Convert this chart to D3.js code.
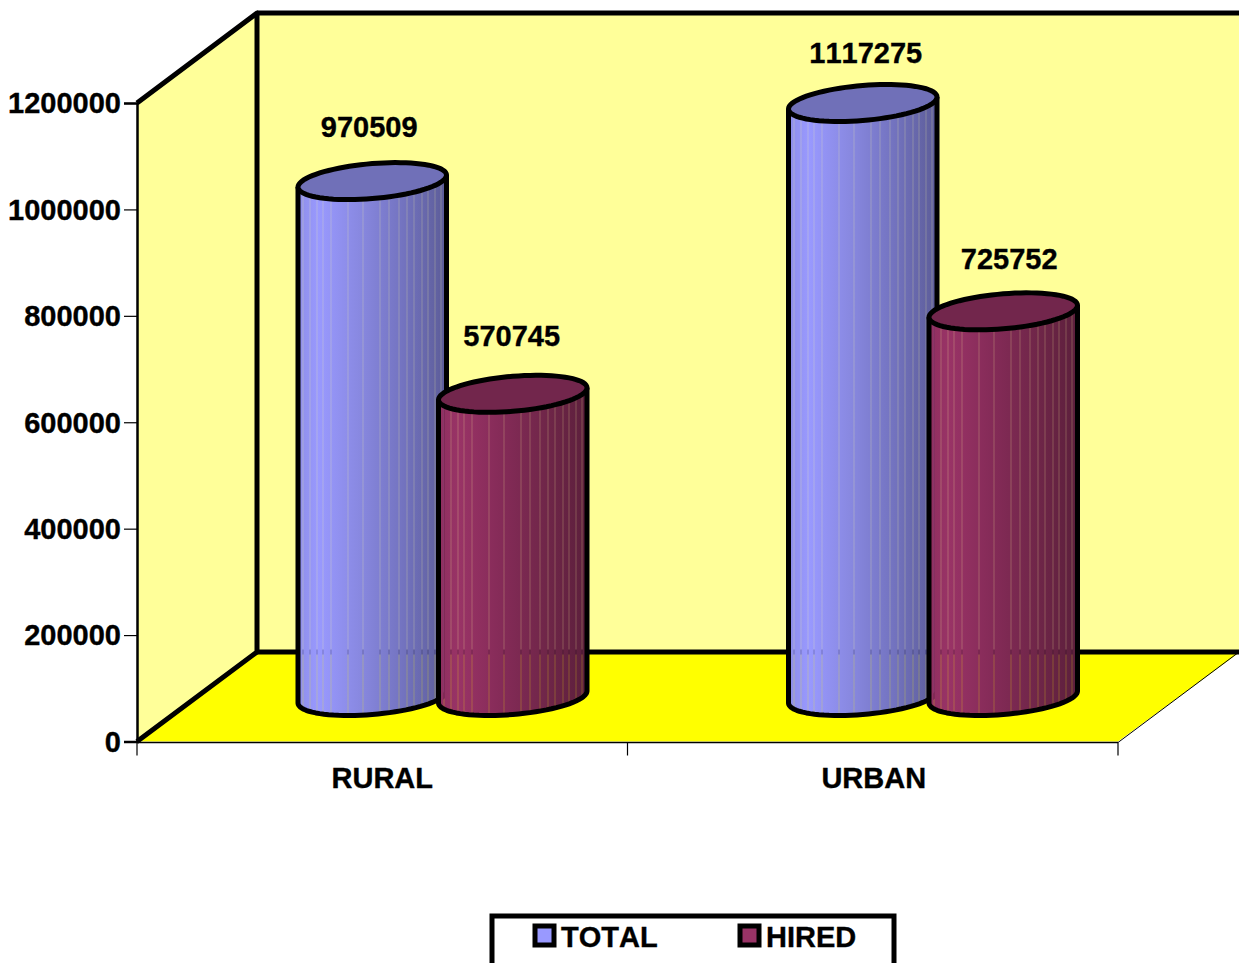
<!DOCTYPE html>
<html><head><meta charset="utf-8">
<script src="https://cdnjs.cloudflare.com/ajax/libs/d3/7.8.5/d3.min.js"></script>
<style>html,body{margin:0;padding:0;background:#fff}svg{display:block}
text{font-family:"Liberation Sans",Arial,sans-serif;font-weight:700;fill:#000;font-kerning:none;stroke:#000;stroke-width:.35px}</style>
</head><body><svg id="c" width="1239" height="963"></svg>
<script>
const categories = ["RURAL", "URBAN"];
const seriesNames = ["TOTAL", "HIRED"];
const totalValues = [970509, 1117275];
const hiredValues = [570745, 725752];
const tickValues = [0, 200000, 400000, 600000, 800000, 1000000, 1200000];

const svg = d3.select("#c");
const X0 = 137, X1 = 1118, Y0 = 741.5, Y1 = 103;
const DX = 120, DY = 89.5;                 // 3-D depth of the box
const y = d3.scaleLinear().domain([0, 1200000]).range([Y0, Y1]);
const x = d3.scaleBand().domain(categories).range([X0, X1]);
const inner = d3.scaleOrdinal().domain(seriesNames).range([161, 301.5]);
const colours = {
  TOTAL: {stops:["#8e8ee8","#9999ff","#8888e0","#7272be","#5c5c98"], top:"#7070b8"},
  HIRED: {stops:["#8f2f60","#993366","#852b58","#702649","#5c1f3c"], top:"#72264c"}
};
const W = 148.5, RX = 74.25, SK = 6, RY = 17.5, BASE = 38, STROKE = 5;
const facetEdges = [0,5,12,19,25,33,50,65,82,91,101,109,116,124,130,137,143,W];

const defs = svg.append("defs");
const line = d3.line();

// walls and floor
svg.append("path").attr("d", line([[X0,Y0],[X0+DX,Y0-DY],[X1+DX+2,Y0-DY],[X1,Y0]])+"Z")
  .attr("fill","#ffff00").attr("stroke","none");
svg.append("path").attr("d", line([[X0,Y1],[X0+DX,13],[X0+DX,Y0-DY],[X0,Y0]])+"Z").attr("fill","#ffff99");
svg.append("rect").attr("x",X0+DX).attr("y",13).attr("width",1239-X0-DX).attr("height",Y0-DY-13).attr("fill","#ffff99");
svg.append("path").attr("d", line([[X0,Y0],[X0+DX,Y0-DY],[X0+DX,13],[X0,Y1]])).attr("fill","none").attr("stroke","#000").attr("stroke-width",STROKE).attr("stroke-linejoin","round");
svg.append("path").attr("d", line([[X0+DX,Y0-DY],[1239,Y0-DY]])).attr("stroke","#000").attr("stroke-width",STROKE);
svg.append("path").attr("d", line([[X0+DX,13],[1239,13]])).attr("stroke","#000").attr("stroke-width",STROKE);
svg.append("path").attr("d", line([[X1,Y0+1],[1239,Y0-DY]])).attr("fill","none").attr("stroke","#000").attr("stroke-width",1);

// axes
const yAxis = d3.axisLeft(y).tickValues(tickValues).tickSize(13).tickPadding(4).tickFormat(d3.format("d"));
const gy = svg.append("g").attr("transform",`translate(${X0},0)`).call(yAxis);
gy.select(".domain").attr("stroke-width",2.5);
gy.selectAll("line").attr("stroke-width",1.2);
gy.selectAll("text").attr("font-size",29).attr("dy","0.34em").attr("x",-16);

const gx = svg.append("g").attr("transform",`translate(0,${Y0+1})`);
gx.append("line").attr("x1",X0).attr("x2",X1).attr("stroke","#000").attr("stroke-width",1.5);
[...categories.map(c=>x(c)), X1].forEach(p=>gx.append("line").attr("x1",p).attr("x2",p).attr("y1",0).attr("y2",13).attr("stroke","#000").attr("stroke-width",1.2));
categories.forEach((c,i)=>gx.append("text").attr("x",x(c)+x.bandwidth()/2+i).attr("y",45).attr("text-anchor","middle").attr("font-size",29).text(c));

// cylinders
const rows = [
  {name:"TOTAL", values: totalValues, nudge:[[-3,-55],[3,-50]]},
  {name:"HIRED", values: hiredValues, nudge:[[-1,-58],[6,-53]]}
];
const ell = (cx,cy,a) => [cx+RX*Math.cos(a), cy-SK*Math.cos(a)+RY*Math.sin(a)];

let uid = 0;
rows.forEach(row=>{
  row.labels = [];
  categories.forEach((cat,i)=>{
    const v = row.values[i], left = x(cat)+inner(row.name), cx = left+W/2;
    const topY = y(v)-BASE-6, botY = y(0)-BASE-6-0.5;  // centres of top and bottom ellipses
    const id = "clip"+(uid++), gid = "grad"+uid;
    const g = svg.append("g");
    const lower = d3.range(0,41).map(k=>ell(cx,botY,Math.PI-Math.PI*k/40));
    const bodyPts = [[cx-RX,topY+SK],...lower,[cx+RX,topY-SK]];
    defs.append("clipPath").attr("id",id).append("path").attr("d",line(bodyPts)+"Z");
    const grad = defs.append("linearGradient").attr("id",gid).attr("gradientUnits","userSpaceOnUse")
      .attr("x1",left).attr("x2",left+W).attr("y1",0).attr("y2",0);
    [0,.14,.42,.72,1].forEach((o,k)=>grad.append("stop").attr("offset",o).attr("stop-color",colours[row.name].stops[k]));
    // facets with hairline seams that let the background show through
    const facets = g.append("g").attr("clip-path",`url(#${id})`);
    d3.pairs(facetEdges).forEach(([a,b])=>facets.append("rect").attr("x",Math.round(left)+a+0.12).attr("width",b-a-0.24)
      .attr("y",topY-30).attr("height",botY-topY+70).attr("fill",`url(#${gid})`));
    g.append("path").attr("d",line(bodyPts)).attr("fill","none").attr("stroke","#000").attr("stroke-width",STROKE).attr("stroke-linejoin","round");
    g.append("path").attr("d",line(d3.range(0,81).map(k=>ell(cx,topY,2*Math.PI*k/80)))+"Z")
      .attr("fill",colours[row.name].top).attr("stroke","#000").attr("stroke-width",STROKE);
    row.labels.push({t:v,x:cx+row.nudge[i][0],y:topY+row.nudge[i][1]});
  });
});
rows.forEach(row=>row.labels.forEach(l=>svg.append("text").attr("x",l.x).attr("y",l.y).attr("dy","0.36em")
  .attr("text-anchor","middle").attr("font-size",29).text(l.t)));

// legend
const lg = svg.append("g");
lg.append("rect").attr("x",492).attr("y",916).attr("width",402).attr("height",60).attr("fill","#fff").attr("stroke","#000").attr("stroke-width",STROKE);
const lx = d3.scaleOrdinal().domain(seriesNames).range([535,740]);
seriesNames.forEach(n=>{
  lg.append("rect").attr("x",lx(n)).attr("y",926).attr("width",19).attr("height",19)
    .attr("fill",colours[n].stops[1]).attr("stroke","#000").attr("stroke-width",STROKE);
  lg.append("text").attr("x",lx(n)+26).attr("y",947).attr("font-size",29).text(n);
});
</script></body></html>
